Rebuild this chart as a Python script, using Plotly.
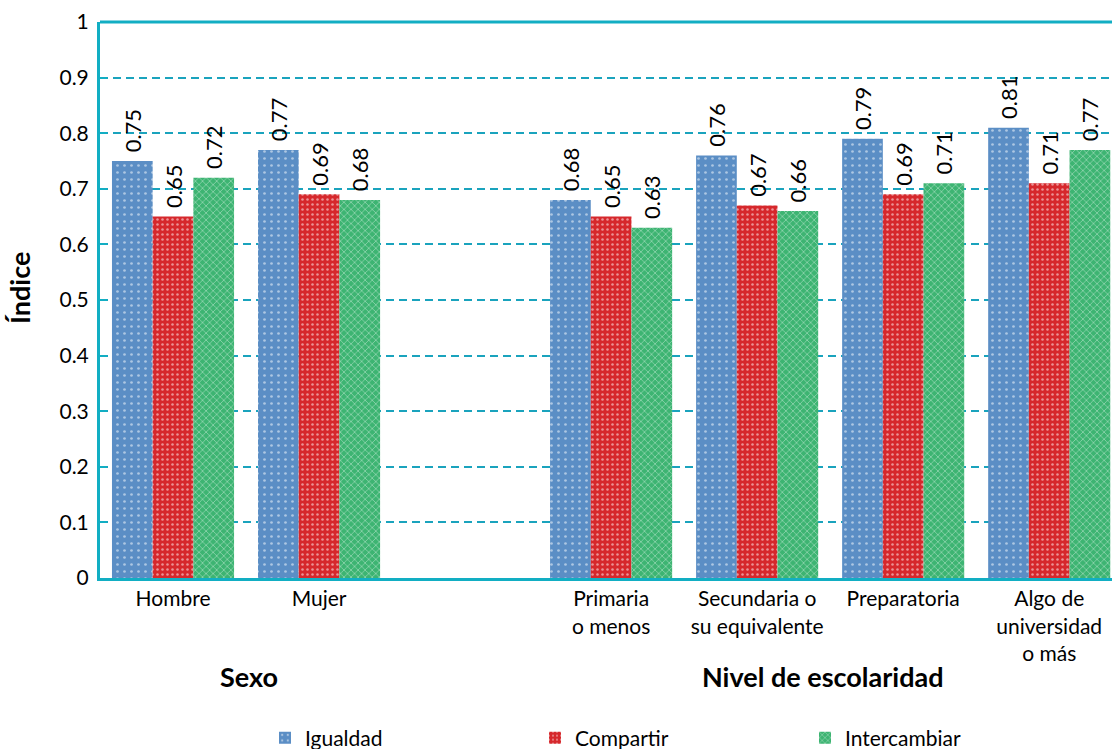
import plotly.graph_objects as go

# Categories (blank slot separates the two groups)
categories = ["Hombre", "Mujer", " ", "Primaria<br>o menos", "Secundaria o<br>su equivalente",
              "Preparatoria", "Algo de<br>universidad<br>o más"]
bar_categories = ["Hombre", "Mujer", "Primaria<br>o menos", "Secundaria o<br>su equivalente",
                  "Preparatoria", "Algo de<br>universidad<br>o más"]

igualdad = [0.75, 0.77, 0.68, 0.76, 0.79, 0.81]
compartir = [0.65, 0.69, 0.65, 0.67, 0.69, 0.71]
intercambiar = [0.72, 0.68, 0.63, 0.66, 0.71, 0.77]

y_ticks = [0, 0.1, 0.2, 0.3, 0.4, 0.5, 0.6, 0.7, 0.8, 0.9, 1]
y_ticktext = ["0", "0.1", "0.2", "0.3", "0.4", "0.5", "0.6", "0.7", "0.8", "0.9", "1"]

FONT = "Lato, 'Open Sans', sans-serif"
TEAL = "#12AEC3"
W, H = 1112, 749
PX0, PX1, PY0, PY1 = 100, 1112, 578, 22  # plot area in pixels


def px_to_paper_x(px):
    return (px - PX0) / (PX1 - PX0)


def px_to_paper_y(py):
    return (PY0 - py) / (PY0 - PY1)


series = [
    ("Igualdad", igualdad, "#5B8EC5", dict(shape=".", fgcolor="white", size=7, solidity=0.12)),
    ("Compartir", compartir, "#D6282C", dict(shape=".", fgcolor="white", size=5, solidity=0.2)),
    ("Intercambiar", intercambiar, "#3DB472", dict(shape="x", fgcolor="white", size=5, solidity=0.25)),
]

fig = go.Figure()
for name, vals, color, pat in series:
    fig.add_trace(go.Bar(
        name=name,
        x=bar_categories,
        y=vals,
        marker=dict(color=color, line=dict(width=0),
                    pattern=dict(fillmode="overlay", bgcolor=color, **pat)),
        texttemplate="\u00a0%{y:.2f}",
        textposition="outside",
        textangle=-90,
        constraintext="none",
        textfont=dict(family=FONT, size=22, color="black"),
        cliponaxis=False,
    ))

fig.update_layout(
    width=W, height=H,
    margin=dict(l=100, r=0, t=22, b=171, autoexpand=False),
    plot_bgcolor="white", paper_bgcolor="white",
    barmode="group", bargap=0.164, bargroupgap=0,
    font=dict(family=FONT, size=21, color="black"),
    uniformtext=dict(mode=False),
    legend=dict(orientation="h", xref="container", yref="container",
                x=265 / W, y=1 - 738 / H, xanchor="left", yanchor="middle",
                entrywidth=225, entrywidthmode="pixels",
                font=dict(size=21), itemwidth=30, bgcolor="rgba(0,0,0,0)",
                traceorder="normal"),
    xaxis=dict(
        type="category", categoryorder="array", categoryarray=categories,
        range=[-0.5, 6.43], showline=True, linecolor=TEAL, linewidth=3,
        mirror=False, ticks="", showgrid=False, tickfont=dict(size=21),
        automargin=False,
    ),
    yaxis=dict(
        range=[0, 1], tickvals=y_ticks, ticktext=y_ticktext,
        showline=True, linecolor=TEAL, linewidth=3,
        ticks="inside", ticklen=7, tickcolor=TEAL, tickwidth=2,
        showgrid=True, gridcolor="#1AA3BD", gridwidth=1.5, griddash="8px,5px",
        zeroline=False, tickfont=dict(size=21), ticklabelstandoff=4,
        automargin=False,
    ),
    annotations=[
        dict(text="<b>Índice</b>", x=px_to_paper_x(19), y=px_to_paper_y(288),
             xref="paper", yref="paper", xanchor="center", yanchor="middle",
             textangle=-90, showarrow=False, font=dict(size=27)),
        dict(text="<b>Sexo</b>", x=px_to_paper_x(249), y=px_to_paper_y(676),
             xref="paper", yref="paper", xanchor="center", yanchor="middle",
             showarrow=False, font=dict(size=27)),
        dict(text="<b>Nivel de escolaridad</b>", x=px_to_paper_x(823), y=px_to_paper_y(676),
             xref="paper", yref="paper", xanchor="center", yanchor="middle",
             showarrow=False, font=dict(size=27)),
    ],
    shapes=[
        dict(type="line", xref="paper", yref="paper", x0=0, x1=1, y0=1, y1=1,
             line=dict(color=TEAL, width=3)),
    ],
)

fig.write_html("out.html")
